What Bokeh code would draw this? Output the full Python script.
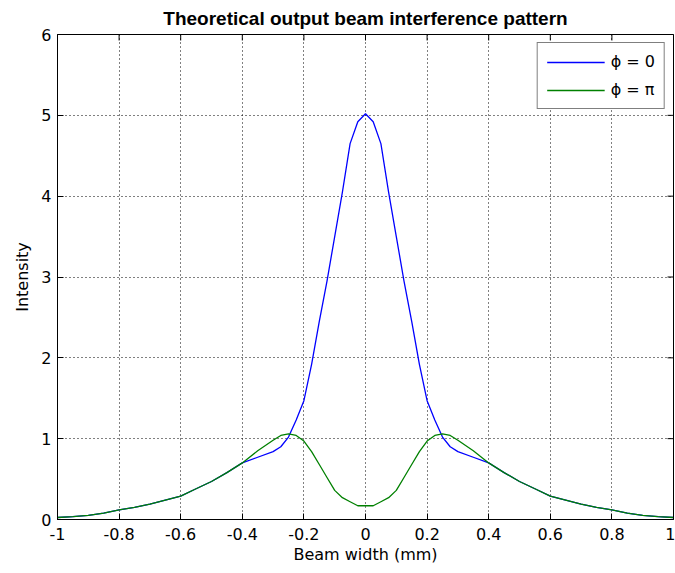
import math

from bokeh.plotting import figure
from bokeh.models import Legend, LegendItem, FixedTicker, Range1d
from bokeh.embed import file_html
from bokeh.resources import INLINE

# Beam position across the output (mm)
beam_x = [-1.0, -0.95, -0.9, -0.85, -0.8, -0.75, -0.7, -0.65, -0.6, -0.55,
          -0.5, -0.45, -0.4, -0.35, -0.3, -0.275, -0.25, -0.225, -0.2, -0.175,
          -0.15, -0.125, -0.1, -0.075, -0.05, -0.025, 0.0, 0.025, 0.05, 0.075,
          0.1, 0.125, 0.15, 0.175, 0.2, 0.225, 0.25, 0.275, 0.3, 0.35,
          0.4, 0.45, 0.5, 0.55, 0.6, 0.65, 0.7, 0.75, 0.8, 0.85,
          0.9, 0.95, 1.0]

# Intensity for phase difference phi = 0 (constructive)
intensity_phi0 = [0.025, 0.035, 0.05, 0.08, 0.12, 0.15, 0.19, 0.24, 0.29, 0.38,
                  0.47, 0.58, 0.70, 0.77, 0.84, 0.90, 1.02, 1.23, 1.47, 1.92,
                  2.45, 2.95, 3.50, 4.05, 4.65, 4.92, 5.02, 4.92, 4.65, 4.05,
                  3.50, 2.95, 2.45, 1.92, 1.47, 1.23, 1.02, 0.90, 0.84, 0.77,
                  0.70, 0.58, 0.47, 0.38, 0.29, 0.24, 0.19, 0.15, 0.12, 0.08,
                  0.05, 0.035, 0.025]

# Intensity for phase difference phi = pi (destructive)
intensity_phipi = [0.025, 0.035, 0.05, 0.08, 0.12, 0.15, 0.19, 0.24, 0.29, 0.38,
                   0.47, 0.58, 0.70, 0.85, 0.98, 1.04, 1.06, 1.04, 0.97, 0.84,
                   0.68, 0.52, 0.36, 0.27, 0.22, 0.17, 0.17, 0.17, 0.22, 0.27,
                   0.36, 0.52, 0.68, 0.84, 0.97, 1.04, 1.06, 1.04, 0.98, 0.85,
                   0.70, 0.58, 0.47, 0.38, 0.29, 0.24, 0.19, 0.15, 0.12, 0.08,
                   0.05, 0.035, 0.025]

x_ticks = [-1.0, -0.8, -0.6, -0.4, -0.2, 0.0, 0.2, 0.4, 0.6, 0.8, 1.0]
x_tick_labels = ["-1", "-0.8", "-0.6", "-0.4", "-0.2", "0", "0.2", "0.4", "0.6", "0.8", "1"]
y_ticks = [0, 1, 2, 3, 4, 5, 6]

X_MIN, X_MAX = -1, 1
Y_MIN, Y_MAX = 0, 6

FONT = "DejaVu Sans"
TITLE_FONT = "Liberation Sans"

p = figure(width=675, height=573, output_backend="svg", toolbar_location=None,
           x_range=Range1d(X_MIN, X_MAX), y_range=Range1d(Y_MIN, Y_MAX),
           title="Theoretical output beam interference pattern",
           min_border_left=57, min_border_right=2, min_border_top=34,
           min_border_bottom=54)

p.background_fill_color = "white"
p.border_fill_color = "white"
p.outline_line_color = "black"
p.outline_line_width = 1

p.title.align = "center"
p.title.text_font = TITLE_FONT
p.title.text_font_style = "bold"
p.title.text_font_size = "19px"
p.title.text_color = "black"
p.title.standoff = 11

xticker = FixedTicker(ticks=x_ticks)
yticker = FixedTicker(ticks=y_ticks)


def style_axis(ax, ticker):
    ax.ticker = ticker
    ax.axis_line_color = "black"
    ax.major_tick_line_color = "black"
    ax.major_tick_in = 6
    ax.major_tick_out = 0
    ax.minor_tick_in = 0
    ax.minor_tick_out = 0
    ax.major_label_text_font = FONT
    ax.major_label_text_font_size = "16px"
    ax.major_label_text_color = "black"
    ax.axis_label_text_font = FONT
    ax.axis_label_text_font_size = "16px"
    ax.axis_label_text_font_style = "normal"
    ax.axis_label_text_color = "black"


xa = p.xaxis[0]
style_axis(xa, xticker)
xa.major_label_overrides = {t: s for t, s in zip(x_ticks, x_tick_labels)}
xa.axis_label = "Beam width (mm)"
xa.major_label_standoff = 8
xa.axis_label_standoff = 2

ya = p.yaxis[0]
style_axis(ya, yticker)
ya.axis_label = "Intensity"
ya.major_label_standoff = 6
ya.axis_label_standoff = 6

# Inward tick marks along the top and right edges of the box
# (dash markers centred on the edge; the frame clips the outer half)
p.scatter(x_ticks, [Y_MAX] * len(x_ticks), marker="dash", size=12,
          angle=math.pi / 2, line_color="black", line_width=1)
p.scatter([X_MAX] * len(y_ticks), y_ticks, marker="dash", size=12,
          line_color="black", line_width=1)

for g, tk in ((p.xgrid[0], xticker), (p.ygrid[0], yticker)):
    g.ticker = tk
    g.grid_line_color = "black"
    g.grid_line_dash = "1 3"
    g.grid_line_width = 1

blue = p.line(beam_x, intensity_phi0, line_color="#0000FF", line_width=1.3)
green = p.line(beam_x, intensity_phipi, line_color="#008000", line_width=1.3)

legend = Legend(items=[LegendItem(label="\u03d5 = 0", renderers=[blue]),
                       LegendItem(label="\u03d5 = \u03c0", renderers=[green])],
                location="top_right")
legend.margin = 8
legend.padding = 9
legend.spacing = 9
legend.glyph_width = 58
legend.glyph_height = 18
legend.label_height = 18
legend.label_standoff = 6
legend.label_text_font = FONT
legend.label_text_font_size = "16px"
legend.label_text_color = "black"
legend.border_line_color = "black"
legend.border_line_width = 1
legend.background_fill_color = "white"
legend.background_fill_alpha = 1
p.add_layout(legend, "center")

open("out.html", "w").write(file_html(p, INLINE))
